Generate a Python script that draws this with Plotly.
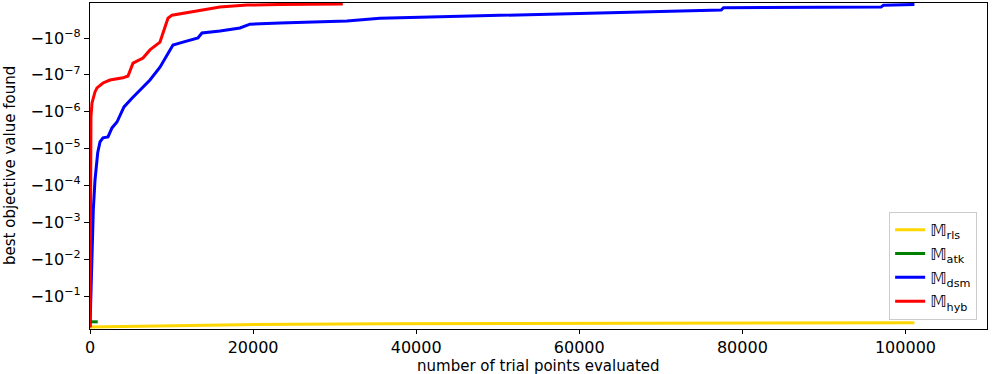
import plotly.graph_objects as go

# best objective value found vs. number of trial points
rls_x = [0, 11600, 18400, 36200, 73000, 101100]
rls_y = [-0.69, -0.63, -0.60, -0.56, -0.54, -0.53]

atk_x = [0, 950]
atk_y = [-0.50, -0.50]

dsm_x = [0, 120, 245, 405, 613, 736, 944, 1226, 1594, 2207, 2697, 3310, 3678,
         4168, 5149, 6130, 7356, 8582, 9563, 10176, 11402, 13241, 13731, 15938,
         18390, 19616, 23294, 31508, 35554, 47800, 62500, 77400, 77700, 97000,
         97300, 101100]
dsm_y = [-0.70, -0.05, -2.6e-3, -4.6e-4, -7.1e-5, -3.2e-5, -1.3e-5, -6.6e-6,
         -5.1e-6, -4.8e-6, -2.75e-6, -1.9e-6, -1.23e-6, -7.4e-7, -4.3e-7,
         -2.6e-7, -1.38e-7, -6.2e-8, -2.6e-8, -1.55e-8, -1.29e-8, -1.0e-8,
         -7.3e-9, -6.45e-9, -5.35e-9, -4.2e-9, -3.9e-9, -3.45e-9, -2.9e-9,
         -2.5e-9, -2.1e-9, -1.75e-9, -1.5e-9, -1.45e-9, -1.3e-9, -1.23e-9]

hyb_x = [0, 60, 120, 245, 613, 858, 1594, 2452, 4046, 4659, 5272, 6498, 7356,
         8582, 8950, 9563, 10053, 13118, 15938, 19248, 23294, 31000]
hyb_y = [-0.70, -2.45e-4, -1.38e-6, -5.75e-7, -2.9e-7, -2.26e-7, -1.66e-7,
         -1.38e-7, -1.2e-7, -1.07e-7, -4.8e-8, -3.5e-8, -2.1e-8, -1.29e-8,
         -7.3e-9, -2.9e-9, -2.4e-9, -1.86e-9, -1.45e-9, -1.28e-9, -1.23e-9,
         -1.2e-9]

series = [
    ("𝕄<sub>rls</sub>", rls_x, rls_y, "#FFD700"),
    ("𝕄<sub>atk</sub>", atk_x, atk_y, "#008000"),
    ("𝕄<sub>dsm</sub>", dsm_x, dsm_y, "#0000FF"),
    ("𝕄<sub>hyb</sub>", hyb_x, hyb_y, "#FF0000"),
]

x_ticks = [0, 20000, 40000, 60000, 80000, 100000]
y_exps = [-8, -7, -6, -5, -4, -3, -2, -1]

fig = go.Figure()
for name, xs, ys, col in series:
    # negative values on a log axis: plot the magnitude and flip the axis
    fig.add_trace(go.Scatter(
        x=xs, y=[-v for v in ys], name=name, mode="lines",
        line=dict(color=col, width=3),
    ))

fig.update_layout(
    width=997, height=374,
    margin=dict(l=90, r=10, t=3, b=45),
    paper_bgcolor="white", plot_bgcolor="white",
    font=dict(family="DejaVu Sans", size=16, color="black"),
    showlegend=True,
    legend=dict(
        x=0.989, y=0.028, xanchor="right", yanchor="bottom",
        bgcolor="rgba(255,255,255,0.8)", bordercolor="#cccccc", borderwidth=1,
        font=dict(size=16),
    ),
)
fig.update_xaxes(
    range=[0, 110000], automargin=False,
    tickvals=x_ticks, ticktext=[str(v) for v in x_ticks],
    ticks="outside", ticklen=4, tickwidth=1.3, tickcolor="black",
    showline=True, linecolor="black", linewidth=1.3, mirror=True,
    showgrid=False, zeroline=False,
)
fig.update_yaxes(
    type="log", range=[-0.106, -8.95], automargin=False,
    tickvals=[10.0 ** e for e in y_exps],
    ticktext=["−10<sup>−%d</sup>" % -e for e in y_exps],
    ticks="outside", ticklen=5, tickwidth=1.3, tickcolor="black",
    showline=True, linecolor="black", linewidth=1.3, mirror=True,
    showgrid=False, zeroline=False,
)

# axis titles placed as annotations so they sit where the original has them
fig.add_annotation(text="number of trial points evaluated", font=dict(size=15),
                   xref="paper", yref="paper", x=0.5, y=0, yshift=-26,
                   xanchor="center", yanchor="top", showarrow=False)
fig.add_annotation(text="best objective value found", font=dict(size=15),
                   textangle=-90, xref="paper", yref="paper", x=0, y=0.5,
                   xshift=-80, xanchor="center", yanchor="middle",
                   showarrow=False)

# drop the browser's default page margin so the figure sits at the top-left
fig.write_html("out.html", config={"displayModeBar": False},
               post_script="document.body.style.margin='0';")
